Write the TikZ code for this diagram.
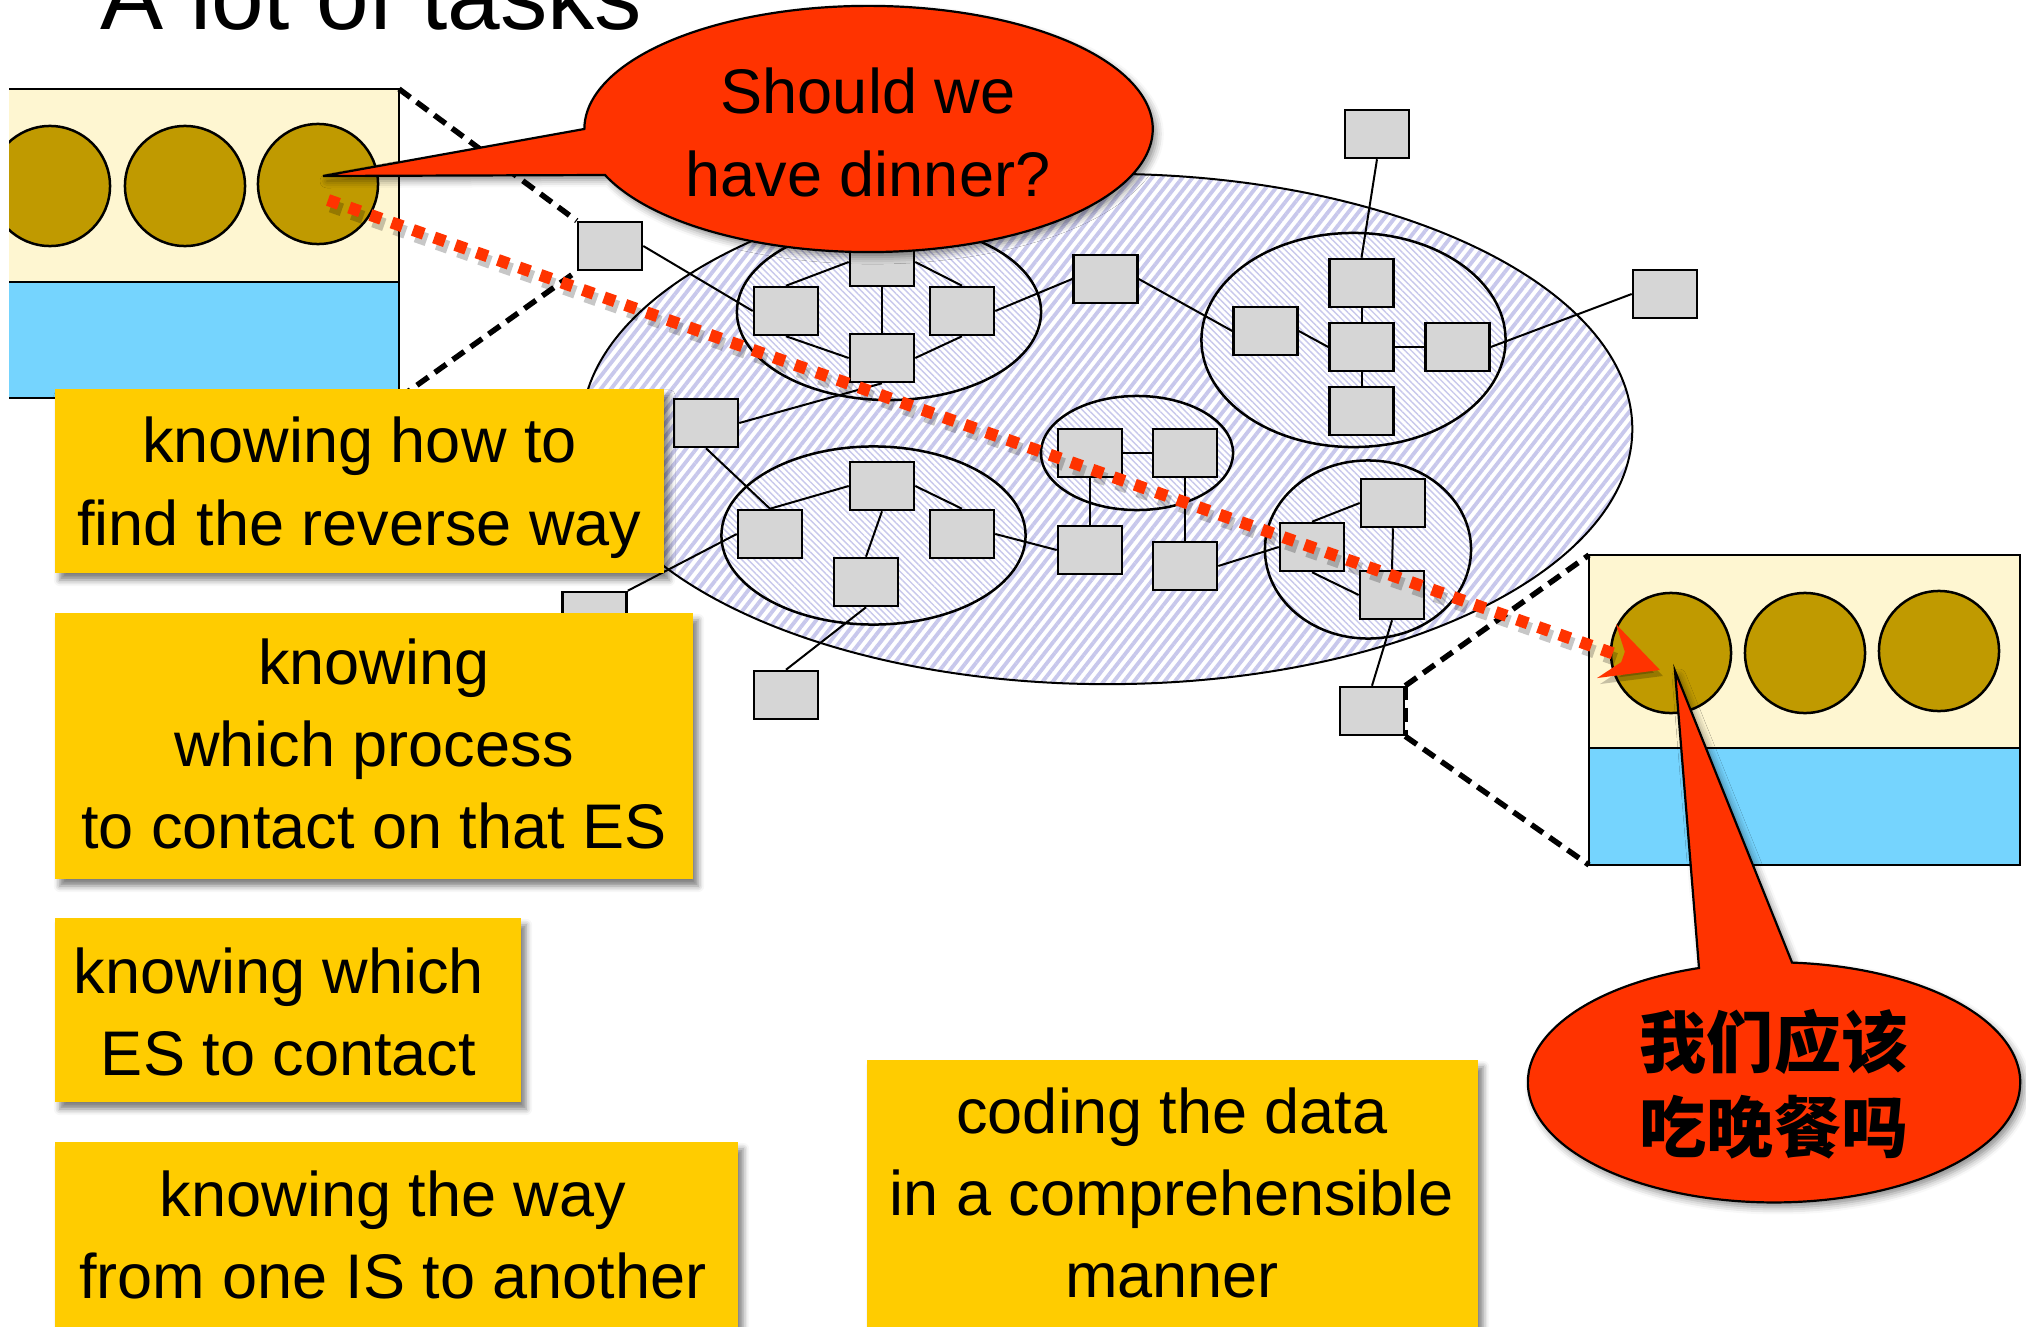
\documentclass[tikz,border=0pt]{standalone}
\usepackage{fontspec}
\setmainfont{Liberation Sans}
\newfontfamily\cjkfont{Noto Sans CJK SC}
\usetikzlibrary{arrows.meta,patterns.meta,shadows.blur}

\definecolor{note}{RGB}{255,204,0}
\definecolor{cream}{RGB}{254,246,209}
\definecolor{sky}{RGB}{117,212,254}
\definecolor{olive}{RGB}{192,154,0}
\definecolor{chipgray}{RGB}{214,214,214}
\definecolor{alarm}{RGB}{255,51,0}
\definecolor{stripe}{RGB}{200,200,236}

\begin{document}
\begin{tikzpicture}[x=0.01cm, y=0.01cm,
  frame/.style={line width=0.025cm},
  ball/.style={draw, fill=olive, line width=0.025cm},
  chip/.style={draw, fill=chipgray, line width=0.025cm, minimum width=0.64cm,
    minimum height=0.48cm, inner sep=0pt},
  link/.style={line width=0.02cm},
  zone/.style={draw, line width=0.02cm, preaction={fill=white},
    pattern={Lines[angle=52, distance=0.08cm, line width=0.038cm]}, pattern color=stripe},
  cluster/.style={draw, line width=0.025cm, preaction={fill=white},
    pattern={Lines[angle=-45, distance=0.045cm, line width=0.014cm]}, pattern color=stripe},
  zoomline/.style={line width=0.055cm, dash pattern=on 0.14cm off 0.08cm},
  bubble/.style={fill=alarm, draw, line width=0.022cm,
    blur shadow={shadow xshift=0.04cm, shadow yshift=-0.05cm, shadow blur radius=0.07cm, shadow opacity=45}},
  sticky/.style={fill=note, inner sep=0pt,
    blur shadow={shadow xshift=0.05cm, shadow yshift=-0.07cm, shadow blur radius=0.06cm, shadow opacity=50}},
  words/.style={inner sep=0pt, align=center, font=\fontsize{17.93pt}{23.33pt}\selectfont},
  hint/.style={alarm, line width=0.12cm, dash pattern=on 0.115cm off 0.11cm},
]
\useasboundingbox (0,0) rectangle (2026,-1327);

% title
\node[inner sep=0pt, anchor=base, font=\fontsize{26.9pt}{32pt}\selectfont] (title) at (371.5,-30) {A lot of tasks};

% left end system: memory with three processes
\coordinate (ltr) at (399,-89);
\coordinate (lbr) at (399,-398);
\fill[cream] (9,-89) rectangle (399,-282);
\fill[sky] (9,-282) rectangle (399,-398);
\begin{scope}
  \clip (9,-89) rectangle (399,-282);
  \draw[ball] (50,-186) circle[radius=0.6cm];
  \draw[ball] (185,-186) circle[radius=0.6cm];
  \draw[ball] (318,-184) circle[radius=0.6cm];
\end{scope}
\draw[frame] (9,-89) -- (ltr) -- (lbr) -- (9,-398) (9,-282) -- (399,-282);

% right end system
\coordinate (rtl) at (1589,-555);
\coordinate (rbl) at (1589,-865);
\fill[cream] (rtl) rectangle (2020,-748);
\fill[sky] (1589,-748) rectangle (2020,-865);
\draw[ball] (1671,-653) circle[radius=0.6cm];
\draw[ball] (1805,-653) circle[radius=0.6cm];
\draw[ball] (1939,-651) circle[radius=0.6cm];
\draw[frame] (rtl) rectangle (2020,-865) (1589,-748) -- (2020,-748);

% the internet and its networks
\path[zone] (1107,-429) ellipse[x radius=5.25cm, y radius=2.55cm];
\path[cluster] (889,-312) ellipse[x radius=1.52cm, y radius=0.88cm];
\path[cluster] (1353.5,-340) ellipse[x radius=1.52cm, y radius=1.07cm];
\path[cluster] (1137,-453) ellipse[x radius=0.96cm, y radius=0.57cm];
\path[cluster] (873.5,-535.5) ellipse[x radius=1.52cm, y radius=0.89cm];
\path[cluster] (1368,-549.5) ellipse[x radius=1.03cm, y radius=0.89cm];

% routers and hosts
\node[chip] (gate) at (610,-246) {};
\node[chip] (ta) at (882,-262) {};
\node[chip] (tb) at (786,-311) {};
\node[chip] (tc) at (962,-311) {};
\node[chip] (td) at (882,-358) {};
\node[chip] (hop) at (1105.5,-279) {};
\node[chip] (ml) at (706,-423) {};
\node[chip] (ba) at (882,-486) {};
\node[chip] (bb) at (770,-534) {};
\node[chip] (bc) at (962,-534) {};
\node[chip] (bd) at (866,-582) {};
\node[chip] (ca) at (1090,-453) {};
\node[chip] (cb) at (1185,-453) {};
\node[chip] (cc) at (1090,-550) {};
\node[chip] (cd) at (1185,-566) {};
\node[chip] (low) at (786,-695) {};
\node[chip] (lft) at (594.5,-616) {};
\node[chip] (top) at (1377,-134) {};
\node[chip] (ra) at (1361.5,-283) {};
\node[chip] (rb) at (1265.5,-331) {};
\node[chip] (rc) at (1361.5,-347) {};
\node[chip] (rd) at (1457.5,-347) {};
\node[chip] (re) at (1361.5,-411) {};
\node[chip] (far) at (1665,-294) {};
\node[chip] (sa) at (1393,-503) {};
\node[chip] (sb) at (1312,-547) {};
\node[chip] (sc) at (1392,-595) {};
\node[chip] (exit) at (1372,-711) {};

% links
\draw[link] (gate.east) -- (tb.west);
\draw[link] (ta.west) -- (tb.north);
\draw[link] (ta.east) -- (tc.north);
\draw[link] (ta.south) -- (td.north);
\draw[link] (tb.south) -- (td.west);
\draw[link] (tc.south) -- (td.east);
\draw[link] (tc.east) -- (hop.west);
\draw[link] (hop.east) -- (rb.west);
\draw[link] (td.south) -- (ml.east);
\draw[link] (ml.south) -- (bb.north);
\draw[link] (bb.north) -- (ba.west);
\draw[link] (ba.east) -- (bc.north);
\draw[link] (ba.south) -- (bd.north);
\draw[link] (bc.east) -- (cc.west);
\draw[link] (bb.west) -- (lft.north east);
\draw[link] (bd.south) -- (low.north);
\draw[link] (ca.east) -- (cb.west);
\draw[link] (ca.south) -- (cc.north);
\draw[link] (cb.south) -- (cd.north);
\draw[link] (cd.east) -- (sb.west);
\draw[link] (top.south) -- (ra.north);
\draw[link] (ra.south) -- (rc.north);
\draw[link] (rb.east) -- (rc.west);
\draw[link] (rc.east) -- (rd.west);
\draw[link] (rc.south) -- (re.north);
\draw[link] (rd.east) -- (far.west);
\draw[link] (sb.north) -- (sa.west);
\draw[link] (sa.south) -- (sc.north);
\draw[link] (sb.south) -- (sc.west);
\draw[link] (sc.south) -- (exit.north);

% magnification lines
\draw[zoomline] (ltr) -- (gate.north west);
\draw[zoomline] (lbr) -- (gate.south west);
\draw[zoomline] (exit.north east) -- (rtl);
\draw[zoomline] (exit.south east) -- (rbl);
\draw[zoomline] (exit.north east) -- (exit.south east);

% message path from process to process
\coordinate (from) at (328,-200);
\coordinate (to) at (1660,-670);
\draw[black, opacity=0.22, line width=0.13cm, dash pattern=on 0.115cm off 0.11cm,
  -{Stealth[length=0.56cm, width=0.56cm, inset=0.21cm]}]
  ([shift={(3,-6)}]from) -- ([shift={(3,-6)}]to);
\draw[hint, -{Stealth[length=0.56cm, width=0.56cm, inset=0.21cm]}] (from) -- (to);

% speech bubbles
\path[bubble] (605,-175) arc[start angle=201.96, end angle=540, x radius=2.84cm, y radius=1.23cm]
  -- (323,-176) -- cycle;
\node[words] (ask) at (868,-138.6) {\strut Should we\\\strut have dinner?};

\path[bubble] (1699,-968) arc[start angle=107.75, end angle=445.8, x radius=2.46cm, y radius=1.2cm]
  -- (1675,-671) -- cycle;
\node[words, font=\cjkfont\bfseries\fontsize{19.06pt}{23.05pt}\selectfont] (reply) at (1774,-1093)
  {\strut 我们应该\\\strut 吃晚餐吗};

% task notes
\node[sticky, minimum width=6.09cm, minimum height=1.84cm] (n1) at (359.5,-481) {};
\node[words] (w1) at (359.5,-487.6) {\strut knowing how to\\\strut find the reverse way};

\node[sticky, minimum width=6.38cm, minimum height=2.66cm] (n2) at (374,-746) {};
\node[words] (w2) at (374,-750.3) {\strut knowing\\\strut which process\\\strut to contact on that ES};

\node[sticky, minimum width=4.66cm, minimum height=1.84cm] (n3) at (288,-1010) {};
\node[words] (w3) at (288.5,-1017.8) {\strut knowing which\hspace*{0.19cm}\\\strut ES to contact};

\node[sticky, minimum width=6.83cm, minimum height=1.98cm] (n4) at (396.5,-1241) {};
\node[words] (w4) at (393,-1241.5) {\strut knowing the way\\\strut from one IS to another};

\node[sticky, minimum width=6.11cm, minimum height=2.8cm] (n5) at (1172.5,-1200) {};
\node[words] (w5) at (1172,-1198.8) {\strut coding the data\\\strut in a comprehensible\\\strut manner};
\end{tikzpicture}
\end{document}
